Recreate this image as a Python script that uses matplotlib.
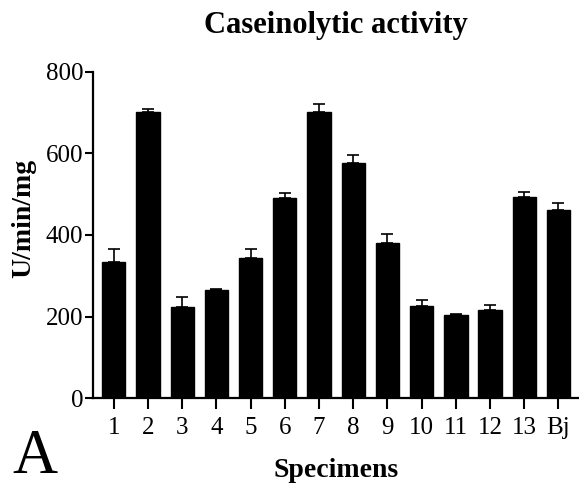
import matplotlib

matplotlib.use("Agg")
import matplotlib.pyplot as plt
import numpy as np

# Caseinolytic activity per specimen (U/min/mg), mean and upper error
specimens = ["1", "2", "3", "4", "5", "6", "7", "8", "9", "10", "11", "12", "13", "Bj"]
activity = [334, 701, 224, 265, 343, 491, 701, 577, 380, 227, 203, 216, 494, 462]
errors = [32, 7, 24, 3, 23, 11, 20, 19, 22, 13, 2, 13, 11, 17]
y_ticks = [0, 200, 400, 600, 800]

plt.rcParams["font.family"] = ["Liberation Serif", "DejaVu Serif"]

fig = plt.figure(figsize=(5.79, 4.86), dpi=100)
ax = fig.add_axes([0.1606, 0.181, 0.8394, 0.671])

x = np.arange(len(specimens))
ax.bar(x, activity, width=0.68, color="black", edgecolor="black",
       yerr=[np.zeros(len(errors)), errors], capsize=4,
       error_kw=dict(ecolor="black", elinewidth=1.2, capthick=1.2))

ax.set_xlim(-0.61, 13.6)
ax.set_ylim(0, 800)
ax.set_yticks(y_ticks)
ax.set_xticks(x)
ax.set_xticklabels(specimens)

for side in ("top", "right"):
    ax.spines[side].set_visible(False)
for side in ("left", "bottom"):
    ax.spines[side].set_linewidth(1.6)

ax.tick_params(axis="both", labelsize=18, width=1.5, direction="out")
ax.tick_params(axis="x", length=8, pad=6)
ax.tick_params(axis="y", length=6, pad=1)

ax.set_ylabel("U/min/mg", fontsize=20, fontweight="bold", va="center")
ax.yaxis.set_label_coords(-0.142, 0.55)
ax.set_xlabel("Specimens", fontsize=20, fontweight="bold", va="center")
ax.xaxis.set_label_coords(0.5, -0.221)

fig.text(336 / 579, 1 - 25 / 486, "Caseinolytic activity", fontsize=22,
         fontweight="bold", ha="center", va="center")
fig.text(0.06, 1 - 458 / 486, "A", fontsize=45, ha="center", va="center")

fig.savefig("out.png", dpi=100)
